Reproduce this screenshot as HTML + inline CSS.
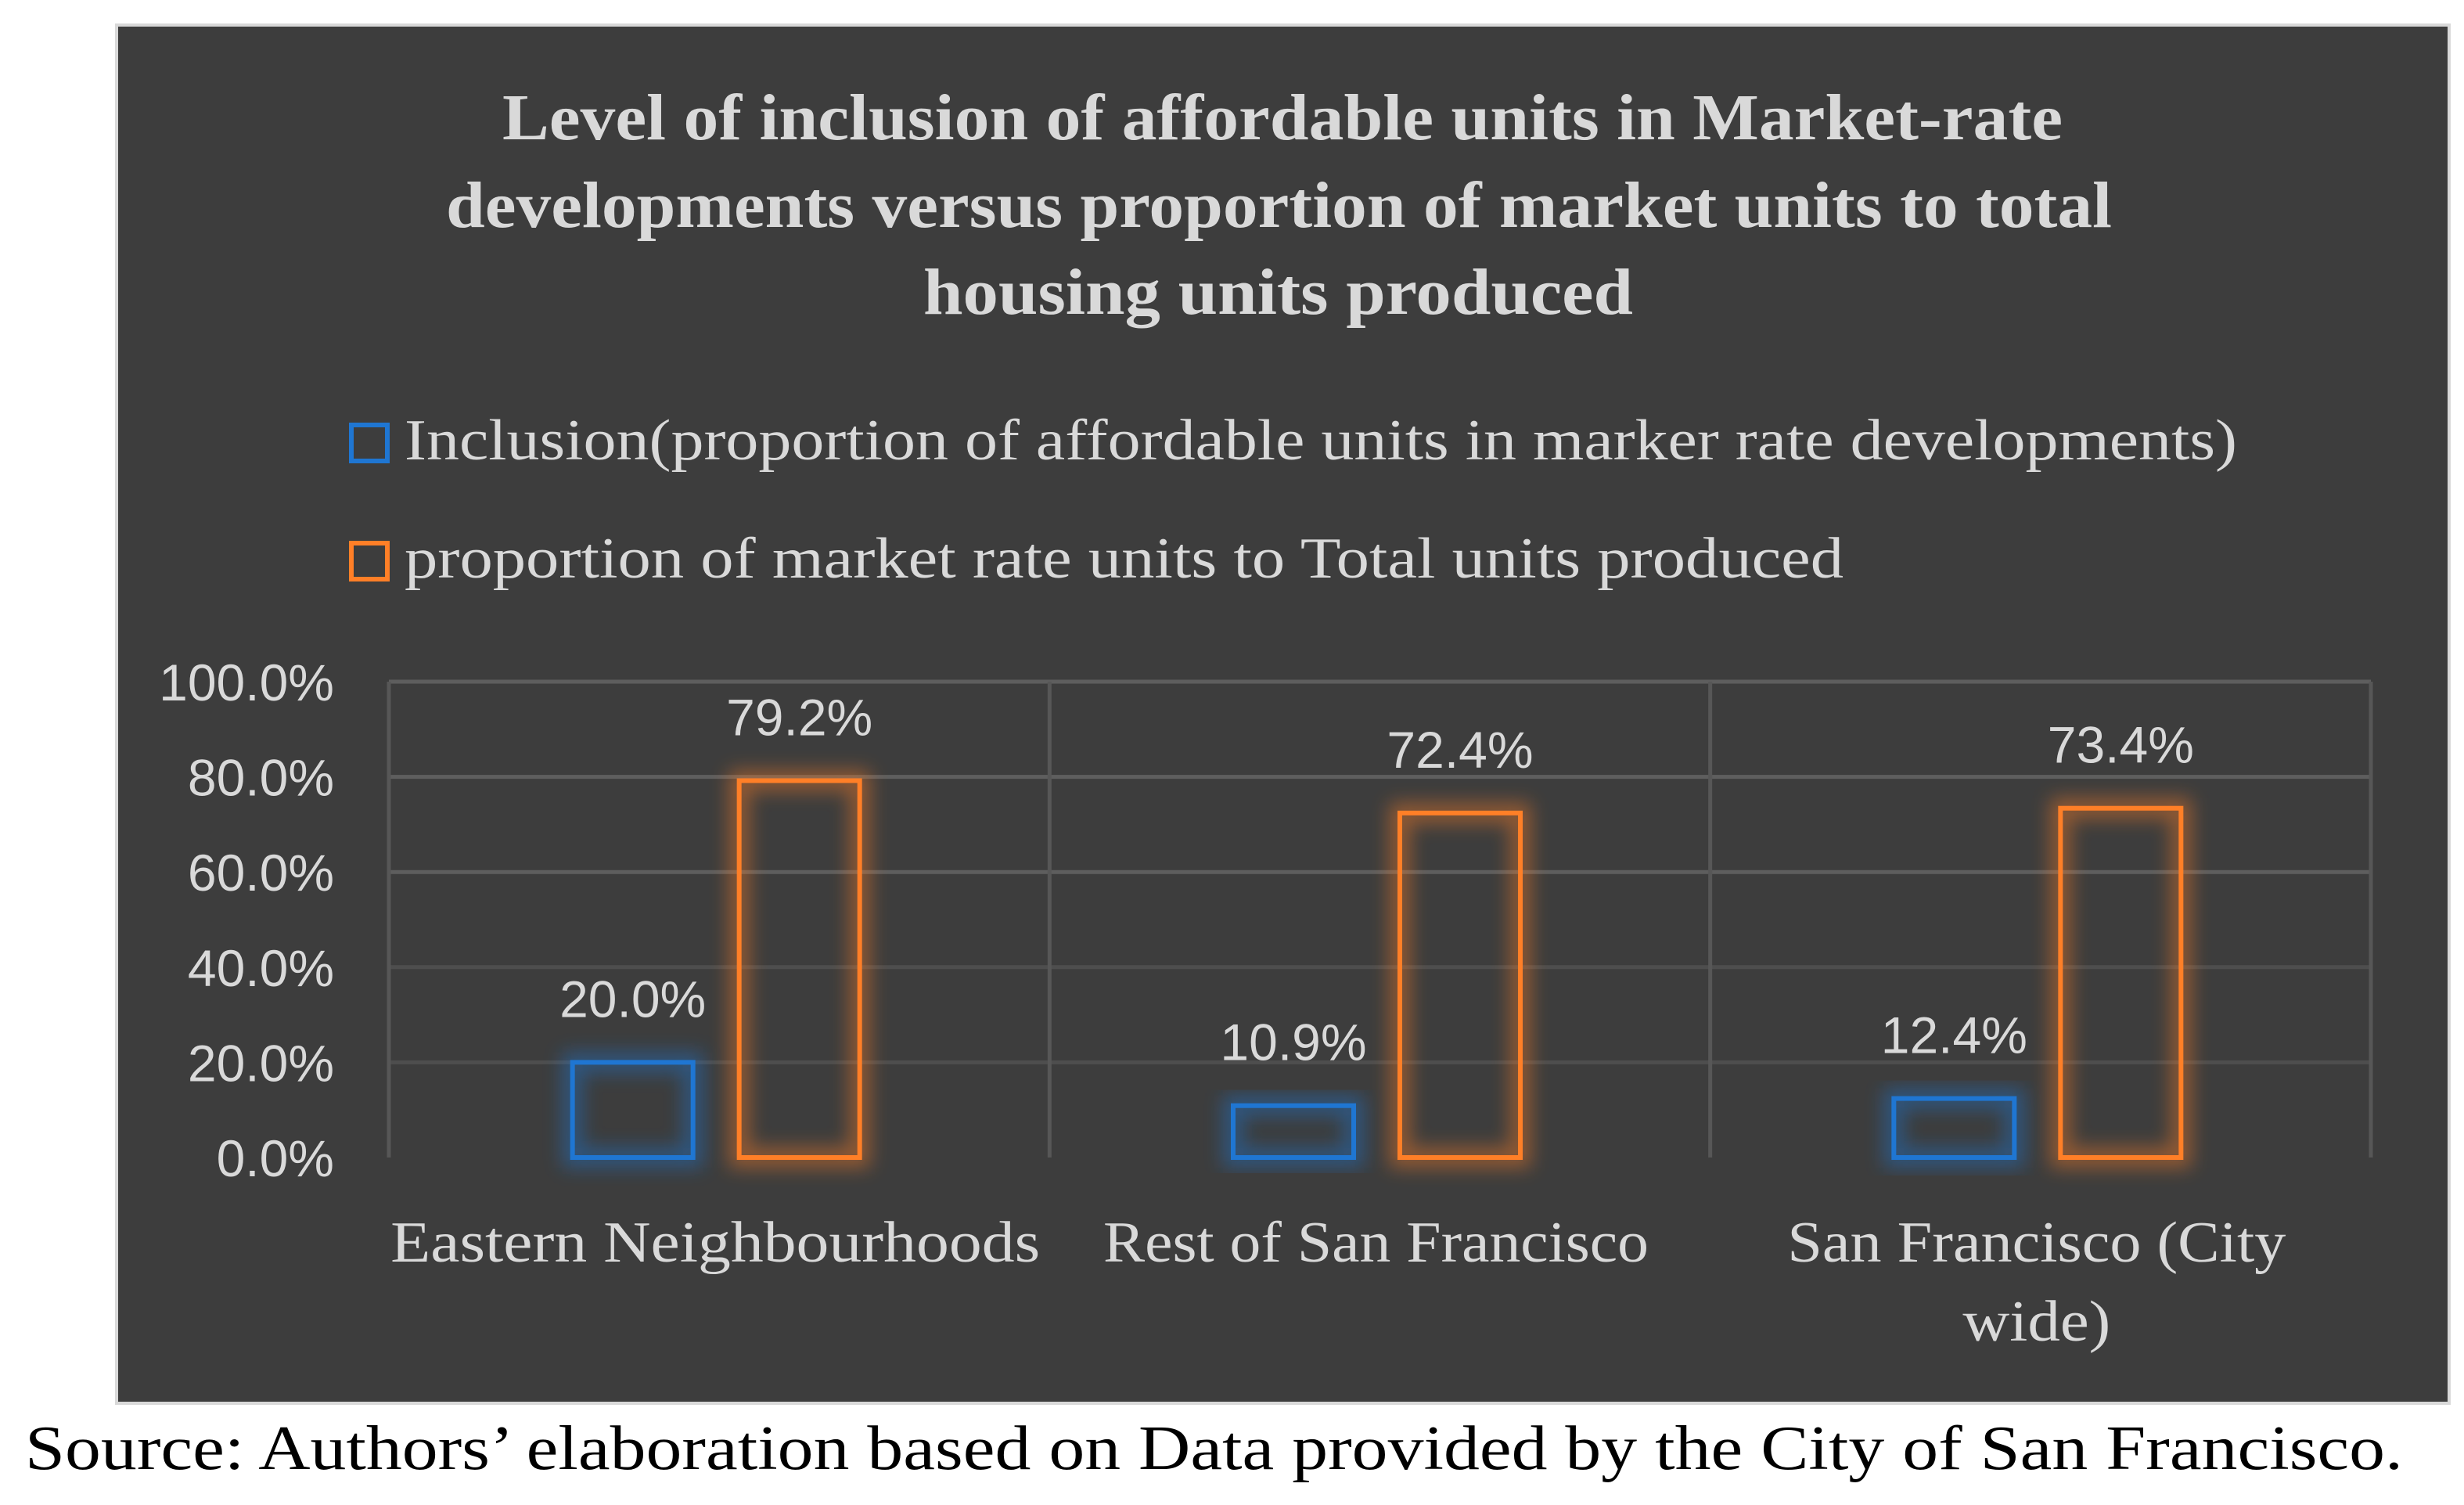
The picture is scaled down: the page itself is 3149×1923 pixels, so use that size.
<!DOCTYPE html>
<html><head><meta charset="utf-8"><style>
html,body{margin:0;padding:0;background:#fff;}
svg{display:block;}
</style></head><body>
<svg id="chart" width="3149" height="1923" viewBox="0 0 3149 1923" xmlns="http://www.w3.org/2000/svg">
<defs>
<filter id="glow" x="-30%" y="-30%" width="160%" height="160%"><feGaussianBlur stdDeviation="12"/></filter>
</defs>
<rect x="149" y="32" width="2981" height="1761" fill="#3d3d3d" stroke="#d9d9d9" stroke-width="4"/>
<g font-family="'Liberation Serif', serif" font-weight="bold" font-size="84" fill="#d9d9d9">
<text x="642" y="178" textLength="1994" lengthAdjust="spacingAndGlyphs">Level of inclusion of affordable units in Market-rate</text>
<text x="570" y="290" textLength="2129" lengthAdjust="spacingAndGlyphs">developments versus proportion of market units to total</text>
<text x="1180" y="401" textLength="907" lengthAdjust="spacingAndGlyphs">housing units produced</text>
</g>
<g font-family="'Liberation Serif', serif" font-size="74" fill="#d9d9d9">
<rect x="449" y="543" width="46" height="46" fill="none" stroke="#1f76d2" stroke-width="6"/>
<text x="517" y="587" textLength="2342" lengthAdjust="spacingAndGlyphs">Inclusion(proportion of affordable units in marker rate developments)</text>
<rect x="449" y="694" width="46" height="46" fill="none" stroke="#ff7f27" stroke-width="6"/>
<text x="517" y="738" textLength="1839" lengthAdjust="spacingAndGlyphs">proportion of market rate units to Total units produced</text>
</g>
<g id="grid"></g>
<g id="bars"></g>
<g id="labels"></g>
<text x="32" y="1877" font-family="'Liberation Serif', serif" font-size="80" fill="#000" textLength="3039" lengthAdjust="spacingAndGlyphs">Source: Authors’ elaboration based on Data provided by the City of San Francisco.</text>
</svg>
<script>
const categories = [["Eastern Neighbourhoods"],["Rest of San Francisco"],["San Francisco (City","wide)"]];
const inclusion = [20.0, 10.9, 12.4];
const marketShare = [79.2, 72.4, 73.4];
const yTicks = [0, 20, 40, 60, 80, 100];
const yTickLabels = ["0.0%","20.0%","40.0%","60.0%","80.0%","100.0%"];
const catLabelWidths = [[830],[697],[637,189]];

const NS = "http://www.w3.org/2000/svg";
const plotL = 497, plotR = 3030, plotT = 871, plotB = 1479;
const yScale = v => plotB - (v / 100) * (plotB - plotT);
const catW = (plotR - plotL) / categories.length;
const xCat = i => plotL + catW * i;
function mk(tag, attrs, parent){const e=document.createElementNS(NS,tag);for(const k in attrs)e.setAttribute(k,attrs[k]);parent.appendChild(e);return e;}
const grid=document.getElementById('grid'), bars=document.getElementById('bars'), labels=document.getElementById('labels');

yTicks.forEach((t,i)=>{
  const y=yScale(t);
  if(t>0){const l=mk('line',{x1:plotL,x2:plotR,y1:y,y2:y,stroke:t>=60?'#5e5e5e':'#4e4e4e','stroke-width':5},grid);
  
  }
  const tx=mk('text',{x:427,y:y+24,'text-anchor':'end','font-family':"'Liberation Sans', sans-serif",'font-size':66,fill:'#d9d9d9'},labels);
  tx.textContent=yTickLabels[i];
  
  
});
for(let i=0;i<=categories.length;i++){
  const x=xCat(i);
  const l=mk('line',{x1:x,x2:x,y1:plotT,y2:plotB,stroke:'#575757','stroke-width':5},grid);
  
  
}
const barW=154, gap=59;
function drawBar(i,v,color,offset,name){
  const x=xCat(i)+catW/2+offset, y=yScale(v), h=plotB-y;
  const g=mk('rect',{x:x,y:y,width:barW,height:h,fill:'none',stroke:color,'stroke-width':26,opacity:0.45,filter:'url(#glow)'},bars);
  
  
  const r=mk('rect',{x:x,y:y,width:barW,height:h,fill:'none',stroke:color,'stroke-width':6},bars);
  
  
  const t=mk('text',{x:x+barW/2,y:y-58,'text-anchor':'middle','font-family':"'Liberation Sans', sans-serif",'font-size':66,fill:'#d9d9d9'},labels);
  t.textContent=v.toFixed(1)+'%';
  
  
}
categories.forEach((c,i)=>{
  drawBar(i,inclusion[i],'#1f76d2',-(barW+gap/2)-4,'bar-inclusion-'+i);
  drawBar(i,marketShare[i],'#ff7f27',gap/2-4,'bar-market-'+i);
  c.forEach((line,j)=>{
    const t=mk('text',{x:xCat(i)+catW/2-5,y:1612+j*101,'text-anchor':'middle','font-family':"'Liberation Serif', serif",'font-size':74,fill:'#d9d9d9',textLength:catLabelWidths[i][j],lengthAdjust:'spacingAndGlyphs'},labels);
    t.textContent=line;
    
    
  });
});
</script>
</body></html>
